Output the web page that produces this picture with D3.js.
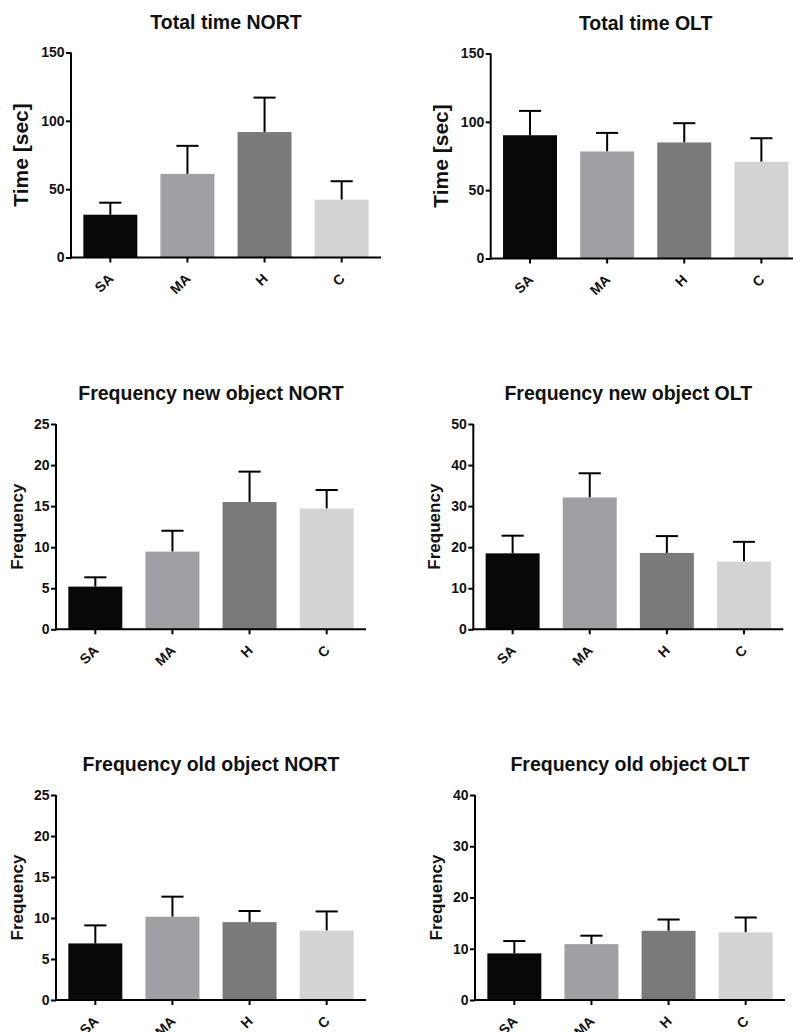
<!DOCTYPE html>
<html>
<head>
<meta charset="utf-8">
<script src="https://cdn.jsdelivr.net/npm/d3@7"></script>
<style>
  html, body { margin: 0; padding: 0; background: #fff; }
  svg { display: block; font-family: "Liberation Sans", Arial, sans-serif; }
</style>
</head>
<body>
<svg id="chart" width="793" height="1032"></svg>
<script>
// ---------- DATA ----------
const categories = ["SA", "MA", "H", "C"];
const barColors = ["#080808", "#a0a0a4", "#7a7a7a", "#d3d3d3"];

const totalTimeNORT_mean = [31.3, 61.2, 91.8, 42.3];
const totalTimeNORT_sem  = [8.8, 20.5, 25.2, 13.5];
const totalTimeOLT_mean  = [90.2, 78.3, 84.9, 70.8];
const totalTimeOLT_sem   = [17.8, 13.6, 14.1, 17.2];
const freqNewNORT_mean   = [5.2, 9.46, 15.5, 14.7];
const freqNewNORT_sem    = [1.13, 2.54, 3.7, 2.26];
const freqNewOLT_mean    = [18.5, 32.1, 18.6, 16.5];
const freqNewOLT_sem     = [4.3, 5.9, 4.1, 4.8];
const freqOldNORT_mean   = [6.9, 10.16, 9.5, 8.46];
const freqOldNORT_sem    = [2.2, 2.44, 1.35, 2.34];
const freqOldOLT_mean    = [9.1, 10.9, 13.5, 13.2];
const freqOldOLT_sem     = [2.4, 1.65, 2.2, 2.9];

const ticksTime  = [0, 50, 100, 150];
const ticks25    = [0, 5, 10, 15, 20, 25];
const ticks50    = [0, 10, 20, 30, 40, 50];
const ticks40    = [0, 10, 20, 30, 40];

const titles = ["Total time NORT", "Total time OLT", "Frequency new object NORT",
                "Frequency new object OLT", "Frequency old object NORT", "Frequency old object OLT"];
const yLabels = ["Time [sec]", "Time [sec]", "Frequency", "Frequency", "Frequency", "Frequency"];

// ---------- LAYOUT ----------
const panels = [
  { title: titles[0], ylab: yLabels[0], mean: totalTimeNORT_mean, sem: totalTimeNORT_sem, ticks: ticksTime, x0: 71,    top: 52.5, bottom: 257.5, ylabSize: 21, ylabOff: 43 },
  { title: titles[1], ylab: yLabels[1], mean: totalTimeOLT_mean,  sem: totalTimeOLT_sem,  ticks: ticksTime, x0: 490.7, top: 53.5, bottom: 258.5, ylabSize: 21, ylabOff: 43 },
  { title: titles[2], ylab: yLabels[2], mean: freqNewNORT_mean,   sem: freqNewNORT_sem,   ticks: ticks25,   x0: 56,    top: 424,  bottom: 629.3, ylabSize: 17, ylabOff: 33 },
  { title: titles[3], ylab: yLabels[3], mean: freqNewOLT_mean,    sem: freqNewOLT_sem,    ticks: ticks50,   x0: 473.3, top: 424,  bottom: 629.3, ylabSize: 17, ylabOff: 33 },
  { title: titles[4], ylab: yLabels[4], mean: freqOldNORT_mean,   sem: freqOldNORT_sem,   ticks: ticks25,   x0: 56,    top: 795,  bottom: 1000,  ylabSize: 17, ylabOff: 33 },
  { title: titles[5], ylab: yLabels[5], mean: freqOldOLT_mean,    sem: freqOldOLT_sem,    ticks: ticks40,   x0: 475,   top: 795,  bottom: 1000,  ylabSize: 17, ylabOff: 33 }
];
const axisWidth = 310;

const svg = d3.select("#chart");

panels.forEach(p => {
  const g = svg.append("g");
  const x = d3.scaleBand().domain(categories).range([p.x0, p.x0 + axisWidth])
              .paddingInner(0.3).paddingOuter(0.16);
  const y = d3.scaleLinear().domain([0, d3.max(p.ticks)]).range([p.bottom, p.top]);

  const data = categories.map((c, i) => ({ c, m: p.mean[i], s: p.sem[i], col: barColors[i] }));

  // error bars (upper only)
  const capW = x.bandwidth() * 0.41;
  const eb = g.append("g");
  eb.selectAll("line.v").data(data).join("line")
    .attr("x1", d => x(d.c) + x.bandwidth() / 2).attr("x2", d => x(d.c) + x.bandwidth() / 2)
    .attr("y1", d => y(d.m)).attr("y2", d => y(d.m + d.s))
    .attr("stroke", "#000").attr("stroke-width", 2);
  eb.selectAll("line.h").data(data).join("line")
    .attr("x1", d => x(d.c) + x.bandwidth() / 2 - capW / 2).attr("x2", d => x(d.c) + x.bandwidth() / 2 + capW / 2)
    .attr("y1", d => y(d.m + d.s)).attr("y2", d => y(d.m + d.s))
    .attr("stroke", "#000").attr("stroke-width", 2);

  // bars
  g.append("g").selectAll("rect").data(data).join("rect")
    .attr("x", d => x(d.c)).attr("width", x.bandwidth())
    .attr("y", d => y(d.m)).attr("height", d => y(0) - y(d.m))
    .attr("fill", d => d.col);

  // y axis
  const ya = g.append("g").attr("transform", `translate(${p.x0},0)`)
    .call(d3.axisLeft(y).tickValues(p.ticks).tickSize(5).tickPadding(1.5).tickSizeOuter(0));
  ya.attr("font-family", null).attr("font-size", null);
  ya.select(".domain").attr("stroke-width", 2).attr("d", `M0,${p.top}V${p.bottom + 1}`);
  ya.selectAll(".tick line").attr("stroke-width", 2);
  ya.selectAll(".tick text").attr("font-size", 14).attr("font-weight", "bold").attr("fill", "#111");

  // x axis
  const xa = g.append("g").attr("transform", `translate(0,${p.bottom})`)
    .call(d3.axisBottom(x).tickSize(5).tickSizeOuter(0));
  xa.attr("font-family", null).attr("font-size", null);
  xa.select(".domain").attr("stroke-width", 2).attr("d", `M${p.x0 - 1},0H${p.x0 + axisWidth}`);
  xa.selectAll(".tick line").attr("stroke-width", 2);
  xa.selectAll(".tick text")
    .attr("font-size", 14).attr("font-weight", "bold").attr("fill", "#111")
    .attr("text-anchor", "end").attr("y", 0).attr("dy", 0)
    .attr("transform", "translate(4,22) rotate(-45)");

  // title
  g.append("text").attr("x", p.x0 + axisWidth / 2).attr("y", p.top - 24)
    .attr("text-anchor", "middle").attr("font-size", 19.5).attr("font-weight", "bold")
    .attr("fill", "#111").text(p.title);

  // y label
  g.append("text")
    .attr("transform", `translate(${p.x0 - p.ylabOff},${(p.top + p.bottom) / 2}) rotate(-90)`)
    .attr("text-anchor", "middle").attr("font-size", p.ylabSize).attr("font-weight", "bold")
    .attr("fill", "#111").text(p.ylab);
});
</script>
</body>
</html>
